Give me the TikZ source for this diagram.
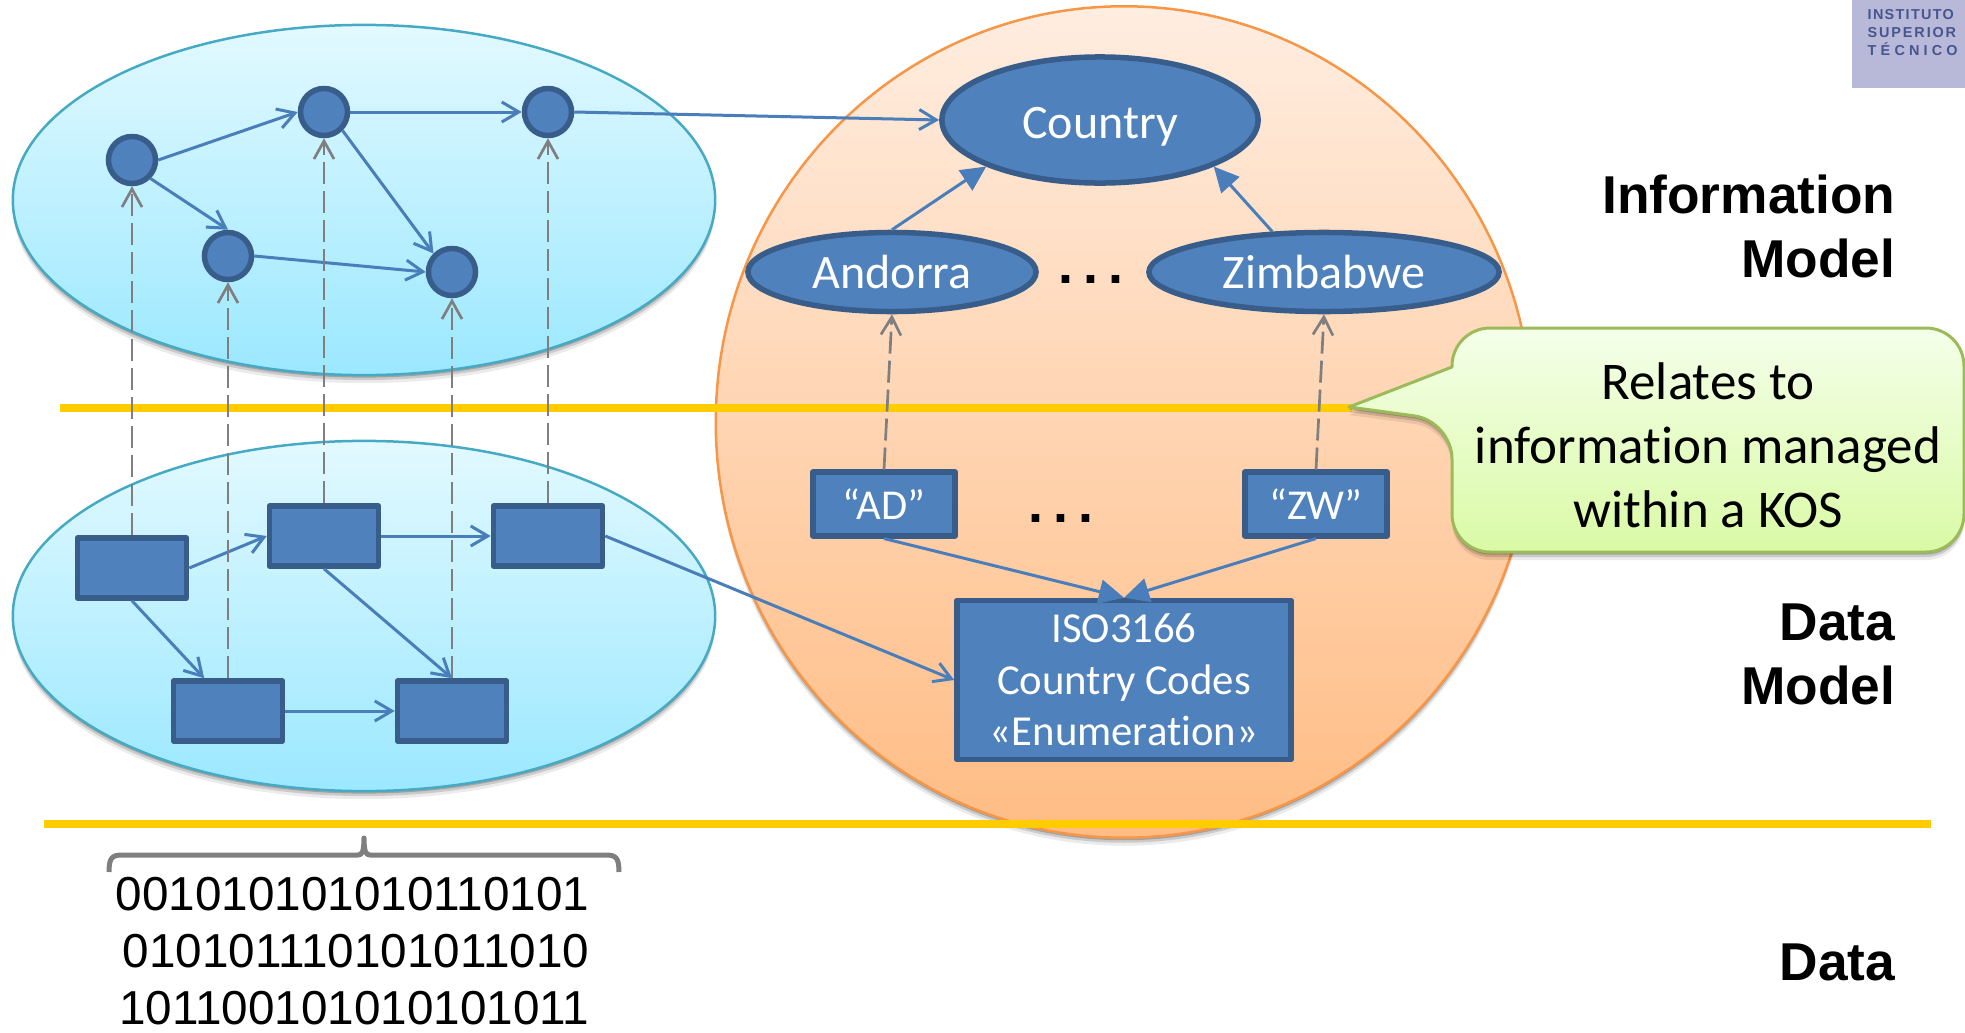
\documentclass[tikz,border=0pt]{standalone}
\usepackage{fontspec}
\setmainfont[Ligatures=CommonOff]{Carlito}
\newfontfamily\arialfont{Liberation Sans}
\usetikzlibrary{arrows.meta,shapes.geometric,shadows}
\definecolor{skyline}{HTML}{46AAC4}
\definecolor{skytop}{HTML}{E2F9FF}
\definecolor{skybot}{HTML}{9BE8FF}
\definecolor{peachline}{HTML}{F79646}
\definecolor{peachtop}{HTML}{FFEDE0}
\definecolor{peachbot}{HTML}{FFBC84}
\definecolor{nodefill}{HTML}{4F81BD}
\definecolor{nodeline}{HTML}{385D8A}
\definecolor{linkblue}{HTML}{4A7EBB}
\definecolor{mapgray}{HTML}{7F7F7F}
\definecolor{rulegold}{HTML}{FFCC00}
\definecolor{notetop}{HTML}{F4FFE9}
\definecolor{notebot}{HTML}{DAFAA6}
\definecolor{noteline}{HTML}{9BBB59}
\definecolor{logofill}{HTML}{B8B9D9}
\definecolor{logotext}{HTML}{47558F}
\tikzset{
  softshadow/.style={
    drop shadow={fill=black,opacity=.2,shadow xshift=0cm,shadow yshift=-.025cm},
    drop shadow={fill=black,opacity=.14,shadow xshift=0cm,shadow yshift=-.05cm},
    drop shadow={fill=black,opacity=.08,shadow xshift=0cm,shadow yshift=-.08cm}},
  skyblob/.style={ellipse,inner sep=0pt,minimum width=7.02cm,minimum height=3.5cm,
    draw=skyline,line width=.025cm,top color=skytop,bottom color=skybot,softshadow},
  peachblob/.style={ellipse,inner sep=0pt,minimum width=8.16cm,minimum height=8.31cm,
    draw=peachline,line width=.025cm,top color=peachtop,bottom color=peachbot,softshadow},
  classdot/.style={circle,inner sep=0pt,minimum size=.47cm,draw=nodeline,
    line width=.055cm,fill=nodefill},
  classoval/.style={ellipse,inner sep=0pt,draw=nodeline,line width=.055cm,fill=nodefill,
    text=white,text depth=0pt,font=\fontsize{13.66pt}{16.6pt}\selectfont},
  recbox/.style={rectangle,inner sep=0pt,minimum width=1.09cm,minimum height=.6cm,
    draw=nodeline,line width=.055cm,fill=nodefill},
  codebox/.style={recbox,text=white,font=\fontsize{12.1pt}{14pt}\selectfont},
  isobox/.style={recbox,text=white,align=center,font=\fontsize{12.15pt}{14.65pt}\selectfont},
  link/.style={draw=linkblue,line width=.03cm,-{Straight Barb[length=.17cm,width=.2cm]}},
  isa/.style={draw=linkblue,line width=.03cm,-{Triangle[length=.25cm,width=.24cm]}},
  mapline/.style={draw=mapgray,line width=.027cm,dash pattern=on .22cm off .07cm,
    -{Straight Barb[length=.18cm,width=.2cm]}},
  goldrule/.style={draw=rulegold,line width=.08cm},
  layername/.style={anchor=south east,inner sep=0pt,align=right,
    font=\arialfont\bfseries\fontsize{15.15pt}{18.2pt}\selectfont},
  etc/.style={anchor=base,inner sep=0pt,font=\arialfont\bfseries\fontsize{15.3pt}{18pt}\selectfont}
}
\begin{document}
\begin{tikzpicture}[line cap=butt,line join=round,x=0.01cm,y=-0.01cm]
  \useasboundingbox (0,0) rectangle (1965,1033);
  \fill[color=logofill] (1852,0) rectangle (1965,88);
  \node[anchor=south west,inner sep=0pt,align=left,text=logotext,
    font=\arialfont\bfseries\fontsize{4.1pt}{5.03pt}\selectfont] (logo) at (1867,56)
    {{\addfontfeature{LetterSpace=9}INSTITUTO}\\
     {\addfontfeature{LetterSpace=13}SUPERIOR}\\
     {\addfontfeature{LetterSpace=29}TÉCNICO}};
  \node[skyblob] (infocloud) at (364,200) {};
  \node[skyblob] (datacloud) at (364,616) {};
  \node[peachblob] (kosblob) at (1124,422) {};
  \coordinate (ruleaw) at (60,408);
  \coordinate (ruleae) at (1352,408);
  \coordinate (rulebw) at (44,824);
  \coordinate (rulebe) at (1931,824);
  \draw[goldrule] (ruleaw) -- (ruleae);
  \draw[goldrule] (rulebw) -- (rulebe);
  \foreach \n/\x/\y in {cdota/132/160,cdotb/324/112,cdotc/548/112,cdotd/228/256,cdote/452/272}
    \node[classdot] (\n) at (\x,\y) {};
  \foreach \n/\x/\y in {recta/132/568,rectb/324/536,rectc/548/536,rectd/228/711,recte/452/711}
    \node[recbox] (\n) at (\x,\y) {};
  \node[classoval,minimum width=3.16cm,minimum height=1.26cm,text height=.36cm] (country)
    at (1100,120) {Country};
  \node[classoval,minimum width=2.88cm,minimum height=.79cm] (andorra) at (892,272) {Andorra};
  \node[classoval,minimum width=3.5cm,minimum height=.79cm] (zimbabwe) at (1324,272) {Zimbabwe};
  \node[codebox,minimum width=1.42cm,minimum height=.635cm] (adcode) at (884,504) {“AD”};
  \node[codebox,minimum width=1.42cm,minimum height=.635cm] (zwcode) at (1316,504) {“ZW”};
  \node[isobox,minimum width=3.34cm,minimum height=1.59cm] (isocodes) at (1124,680)
    {ISO3166\\Country Codes\\«Enumeration»};
  \node[etc] (dotsa) at (1091,283) {.\kern.1cm.\kern.1cm.};
  \node[etc] (dotsb) at (1061,522) {.\kern.1cm.\kern.1cm.};
  \draw[link] (cdota.east) -- (cdotb.west);
  \draw[link] (cdota.south east) -- (cdotd.north);
  \draw[link] (cdotb.east) -- (cdotc.west);
  \draw[link] (cdotb.south east) -- (cdote.north west);
  \draw[link] (cdotd.east) -- (cdote.west);
  \draw[link] (cdotc.east) -- (country.west);
  \draw[link] (recta.east) -- (rectb.west);
  \draw[link] (recta.south) -- (rectd.126);
  \draw[link] (rectb.east) -- (rectc.west);
  \draw[link] (rectb.south) -- (recte.north);
  \draw[link] (rectd.east) -- (recte.west);
  \draw[link] (rectc.east) -- (isocodes.west);
  \draw[isa] (andorra.north) -- (country.south west);
  \draw[isa] (zimbabwe.142) -- (country.south east);
  \draw[isa] (adcode.south) -- (isocodes.north);
  \draw[isa] (zwcode.south) -- (isocodes.north);
  \foreach \a/\b in {recta/cdota,rectb/cdotb,rectc/cdotc,rectd/cdotd,recte/cdote,
    adcode/andorra,zwcode/zimbabwe}
    \draw[mapline] (\a.north) -- (\b.south);
  \draw[draw=noteline,line width=.03cm,top color=notetop,bottom color=notebot,softshadow]
    (1452,367) [rounded corners=.38cm] -- (1452,328) -- (1964,328) -- (1964,552)
    -- (1452,552) -- (1452,421) [sharp corners] -- (1349,407) -- cycle;
  \node[align=center,inner sep=0pt,font=\fontsize{15.08pt}{18.2pt}\selectfont] (notetext)
    at (1708,445) {Relates to\\information managed\\within a KOS};
  \draw[draw=mapgray,line width=.05cm,line join=round]
    (109,872) .. controls (109,858) and (112,855) .. (122,855) -- (358,855)
    .. controls (362,855) and (364,852) .. (364,838)
    .. controls (364,852) and (366,855) .. (370,855) -- (606,855)
    .. controls (616,855) and (619,858) .. (619,872);
  \node[anchor=south east,inner sep=0pt,align=right,
    font=\arialfont\fontsize{13.55pt}{16.25pt}\selectfont] (bits) at (590,1026)
    {001010101010110101\\010101110101011010\\101100101010101011};
  \node[layername] (infolabel) at (1896,279) {Information\\Model};
  \node[layername] (datamodellabel) at (1896,706) {Data\\Model};
  \node[layername] (datalabel) at (1896,982) {Data};
\end{tikzpicture}
\end{document}
